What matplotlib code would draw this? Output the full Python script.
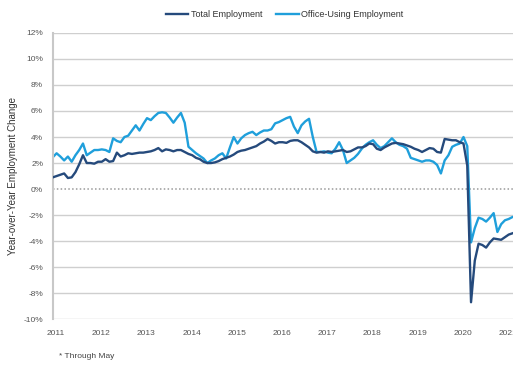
import matplotlib
matplotlib.use("Agg")
import matplotlib.pyplot as plt
import numpy as np

plt.rcParams["font.family"] = ["Liberation Sans", "DejaVu Sans"]

# monthly year-over-year change (%), Jan 2011 through May 2021
total_emp = [
    0.9, 1.0, 1.1, 1.2, 0.85, 0.9, 1.3, 1.9, 2.6, 2.0, 2.0, 1.95,
    2.1, 2.1, 2.3, 2.1, 2.15, 2.8, 2.5, 2.6, 2.75, 2.7, 2.75, 2.8,
    2.8, 2.85, 2.9, 3.0, 3.15, 2.9, 3.05, 3.0, 2.9, 3.0, 3.0, 2.85,
    2.7, 2.6, 2.4, 2.3, 2.1, 2.0, 2.0, 2.05, 2.15, 2.3, 2.4, 2.5,
    2.65, 2.85, 2.95, 3.0, 3.1, 3.2, 3.3, 3.5, 3.65, 3.85, 3.7, 3.5,
    3.6, 3.6, 3.55, 3.7, 3.75, 3.75, 3.6, 3.4, 3.2, 2.9, 2.8, 2.85,
    2.8, 2.9, 2.85, 2.9, 2.95, 3.0, 2.85, 2.9, 3.05, 3.2, 3.2, 3.3,
    3.5, 3.45, 3.1, 3.0, 3.2, 3.35, 3.5, 3.55, 3.5, 3.45, 3.35, 3.25,
    3.1, 3.0, 2.85, 3.0, 3.15, 3.1, 2.85, 2.8, 3.85, 3.8, 3.75, 3.75,
    3.6, 3.5, 1.8, -8.7, -5.5, -4.2, -4.3, -4.5, -4.1, -3.8, -3.85, -3.9,
    -3.7, -3.5, -3.4, -3.3, -3.3,
]
office_emp = [
    2.45, 2.75, 2.5, 2.2, 2.5, 2.1, 2.6, 3.0, 3.5, 2.6, 2.8, 3.0,
    3.0, 3.05, 3.0, 2.85, 3.9, 3.7, 3.6, 4.0, 4.1, 4.5, 4.9, 4.5,
    5.0, 5.45, 5.3, 5.6, 5.85, 5.9, 5.85, 5.5, 5.1, 5.5, 5.85, 5.1,
    3.25, 3.0, 2.75, 2.55, 2.35, 2.0, 2.2, 2.35, 2.6, 2.75, 2.35, 3.2,
    4.0, 3.5, 3.9, 4.15, 4.3, 4.4, 4.15, 4.35, 4.5, 4.5, 4.6, 5.05,
    5.15, 5.3, 5.45, 5.55, 4.8, 4.3, 4.9, 5.2, 5.4, 4.0, 2.85, 2.85,
    2.9, 2.8, 2.75, 3.1, 3.6, 3.0, 2.0, 2.2, 2.4, 2.7, 3.1, 3.4,
    3.6, 3.75, 3.4, 3.15, 3.3, 3.6, 3.9, 3.6, 3.4, 3.3, 3.1, 2.4,
    2.3, 2.2, 2.1, 2.2, 2.2, 2.1, 1.85, 1.2, 2.2, 2.6, 3.25, 3.4,
    3.5, 4.0, 3.3, -4.1, -3.0, -2.2, -2.3, -2.5, -2.2, -1.85, -3.3, -2.7,
    -2.4, -2.3, -2.15, -2.1, -2.1,
]
years = [str(y) for y in range(2011, 2022)]
y_ticks = list(range(-10, 13, 2))

months = np.arange(len(total_emp))

fig = plt.figure(figsize=(5.13, 3.66), dpi=100)
ax = fig.add_axes([0.103, 0.128, 0.918, 0.782])

# horizontal gridlines, dotted at zero
for v in y_ticks:
    if v == 0:
        ax.axhline(v, color="#9a9a9a", lw=1.1, ls=(0, (1, 1.5)), zorder=1)
    else:
        ax.axhline(v, color="#cfcfcf", lw=1.0, zorder=1)

ax.plot(months, total_emp, color="#254a7c", lw=1.7, label="Total Employment", zorder=3)
ax.plot(months, office_emp, color="#1f9fdb", lw=1.7, label="Office-Using Employment", zorder=2)

ax.set_xlim(0, 125)
ax.set_ylim(-10, 12)
ax.set_yticks(y_ticks)
ax.set_yticklabels([f"{v}%" for v in y_ticks])
ax.set_xticks(np.arange(len(years)) * 12 + 0.8)
ax.set_xticklabels(years)
ax.tick_params(axis="both", length=0, labelsize=6, colors="#555555")
ax.tick_params(axis="y", pad=7)
ax.tick_params(axis="x", pad=8)

for side in ["top", "right", "bottom"]:
    ax.spines[side].set_visible(False)
ax.spines["left"].set_color("#c8c8c8")
ax.spines["left"].set_linewidth(1.5)

ax.set_ylabel("Year-over-Year Employment Change", fontsize=7, color="#333333", labelpad=4)

fig.legend(loc="upper center", bbox_to_anchor=(0.555, 0.995), ncol=2, frameon=False,
           fontsize=6.5, handlelength=2.5, handletextpad=0.3, columnspacing=1.5,
           labelcolor="#333333")

fig.text(0.115, 0.022, "* Through May", fontsize=6, color="#444444")

fig.savefig("out.png", dpi=100)
